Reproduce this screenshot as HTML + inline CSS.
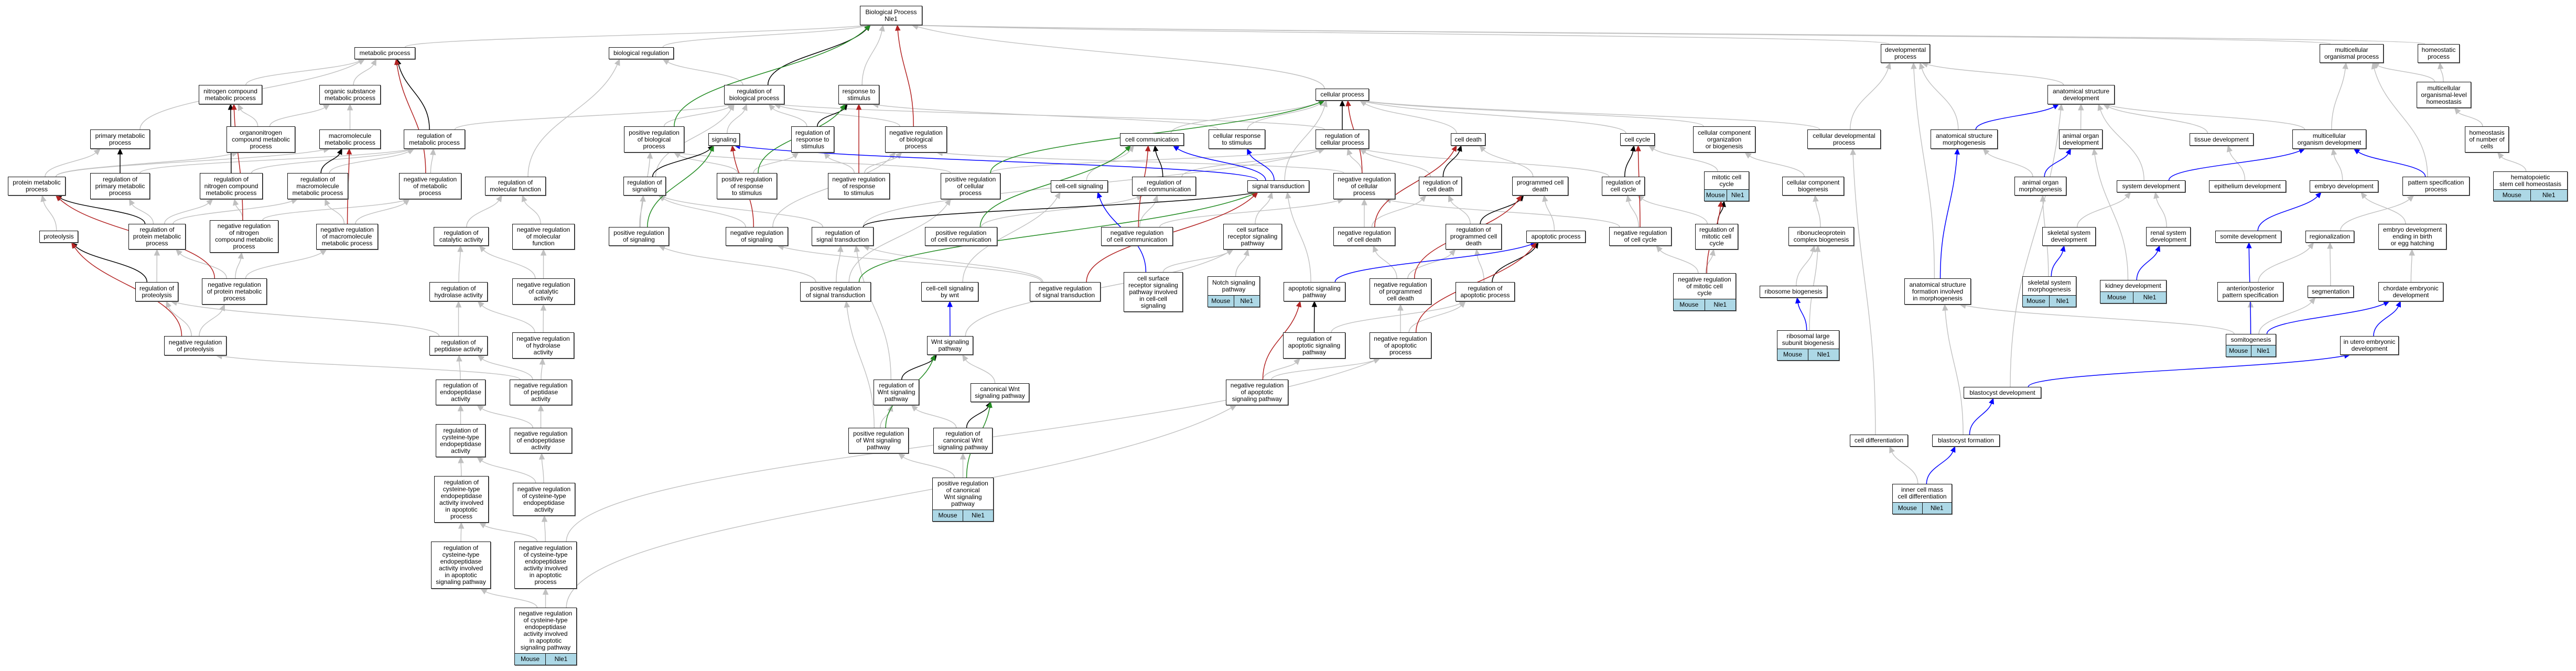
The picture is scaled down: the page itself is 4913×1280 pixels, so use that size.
<!DOCTYPE html>
<html><head><meta charset="utf-8"><style>
html,body{margin:0;padding:0;background:#fff;}
#wrap{position:relative;width:4913px;height:1280px;overflow:hidden;background:#fff;}
svg{position:absolute;left:0;top:0;}
.n{position:absolute;box-sizing:border-box;border:1.5px solid #111;background:#fff;display:flex;align-items:center;justify-content:center;text-align:center;font:12px/13px "Liberation Sans",sans-serif;color:#000;white-space:nowrap;box-shadow:1px 1px 0 #777;z-index:2}
.g{flex-direction:column;align-items:stretch}
.g .t{flex:1;display:flex;align-items:center;justify-content:center}
.g .r{height:21px;display:flex;border-top:1.5px solid #111;background:#add8e6}
.g .r span{flex:1;display:flex;align-items:center;justify-content:center}
.g .r span+span{border-left:1.5px solid #111}
</style></head><body><div id="wrap">
<svg id="sv" width="4913" height="1280"></svg>
<div class="n" id="bp" style="left:1640px;top:11px;width:119px;height:37px">Biological Process<br>Nle1</div>
<div class="n" id="mp" style="left:676px;top:90px;width:116px;height:23px">metabolic process</div>
<div class="n" id="br" style="left:1161px;top:90px;width:124px;height:23px">biological regulation</div>
<div class="n" id="rbp" style="left:1381px;top:162px;width:115px;height:37px">regulation of<br>biological process</div>
<div class="n" id="rs" style="left:1599px;top:162px;width:78px;height:37px">response to<br>stimulus</div>
<div class="n" id="cp" style="left:2509px;top:169px;width:102px;height:23px">cellular process</div>
<div class="n" id="dp" style="left:3587px;top:84px;width:94px;height:36px">developmental<br>process</div>
<div class="n" id="mop" style="left:4424px;top:84px;width:122px;height:36px">multicellular<br>organismal process</div>
<div class="n" id="hp" style="left:4611px;top:84px;width:80px;height:36px">homeostatic<br>process</div>
<div class="n" id="ncmp" style="left:379px;top:162px;width:121px;height:37px">nitrogen compound<br>metabolic process</div>
<div class="n" id="osmp" style="left:609px;top:162px;width:117px;height:37px">organic substance<br>metabolic process</div>
<div class="n" id="pmp" style="left:172px;top:247px;width:114px;height:37px">primary metabolic<br>process</div>
<div class="n" id="oncmp" style="left:432px;top:241px;width:131px;height:50px">organonitrogen<br>compound metabolic<br>process</div>
<div class="n" id="mmp" style="left:609px;top:247px;width:117px;height:37px">macromolecule<br>metabolic process</div>
<div class="n" id="rmp" style="left:770px;top:247px;width:117px;height:37px">regulation of<br>metabolic process</div>
<div class="n" id="pbp" style="left:1190px;top:241px;width:115px;height:50px">positive regulation<br>of biological<br>process</div>
<div class="n" id="sig" style="left:1351px;top:254px;width:60px;height:24px">signaling</div>
<div class="n" id="rrs" style="left:1509px;top:241px;width:82px;height:50px">regulation of<br>response to<br>stimulus</div>
<div class="n" id="nrbp" style="left:1688px;top:241px;width:118px;height:50px">negative regulation<br>of biological<br>process</div>
<div class="n" id="cc" style="left:2136px;top:254px;width:122px;height:24px">cell communication</div>
<div class="n" id="crs" style="left:2305px;top:247px;width:108px;height:37px">cellular response<br>to stimulus</div>
<div class="n" id="rcp" style="left:2509px;top:247px;width:102px;height:37px">regulation of<br>cellular process</div>
<div class="n" id="cd" style="left:2767px;top:254px;width:66px;height:24px">cell death</div>
<div class="n" id="ccy" style="left:3090px;top:254px;width:66px;height:24px">cell cycle</div>
<div class="n" id="ccob" style="left:3229px;top:241px;width:119px;height:50px">cellular component<br>organization<br>or biogenesis</div>
<div class="n" id="cdp" style="left:3447px;top:247px;width:140px;height:37px">cellular developmental<br>process</div>
<div class="n" id="asd" style="left:3905px;top:162px;width:128px;height:37px">anatomical structure<br>development</div>
<div class="n" id="mloh" style="left:4609px;top:156px;width:104px;height:50px">multicellular<br>organismal-level<br>homeostasis</div>
<div class="n" id="asm" style="left:3682px;top:247px;width:128px;height:37px">anatomical structure<br>morphogenesis</div>
<div class="n" id="aod" style="left:3927px;top:247px;width:83px;height:37px">animal organ<br>development</div>
<div class="n" id="td" style="left:4176px;top:254px;width:122px;height:24px">tissue development</div>
<div class="n" id="mod" style="left:4372px;top:247px;width:141px;height:37px">multicellular<br>organism development</div>
<div class="n" id="hnc" style="left:4701px;top:241px;width:84px;height:50px">homeostasis<br>of number of<br>cells</div>
<div class="n" id="prmp" style="left:15px;top:337px;width:110px;height:36px">protein metabolic<br>process</div>
<div class="n" id="rpmp" style="left:172px;top:330px;width:114px;height:50px">regulation of<br>primary metabolic<br>process</div>
<div class="n" id="rncmp" style="left:381px;top:330px;width:120px;height:50px">regulation of<br>nitrogen compound<br>metabolic process</div>
<div class="n" id="rmmp" style="left:548px;top:330px;width:116px;height:50px">regulation of<br>macromolecule<br>metabolic process</div>
<div class="n" id="nrmp" style="left:761px;top:330px;width:119px;height:50px">negative regulation<br>of metabolic<br>process</div>
<div class="n" id="rmf" style="left:925px;top:337px;width:116px;height:36px">regulation of<br>molecular function</div>
<div class="n" id="rsig" style="left:1189px;top:337px;width:81px;height:36px">regulation of<br>signaling</div>
<div class="n" id="prrs" style="left:1367px;top:330px;width:115px;height:50px">positive regulation<br>of response<br>to stimulus</div>
<div class="n" id="nrrs" style="left:1579px;top:330px;width:118px;height:50px">negative regulation<br>of response<br>to stimulus</div>
<div class="n" id="prcp" style="left:1794px;top:330px;width:114px;height:50px">positive regulation<br>of cellular<br>process</div>
<div class="n" id="ccs" style="left:2004px;top:344px;width:109px;height:23px">cell-cell signaling</div>
<div class="n" id="rcc" style="left:2159px;top:337px;width:122px;height:36px">regulation of<br>cell communication</div>
<div class="n" id="st" style="left:2379px;top:344px;width:118px;height:23px">signal transduction</div>
<div class="n" id="nrcp" style="left:2543px;top:330px;width:118px;height:50px">negative regulation<br>of cellular<br>process</div>
<div class="n" id="rcd" style="left:2706px;top:337px;width:82px;height:36px">regulation of<br>cell death</div>
<div class="n" id="pcd" style="left:2884px;top:337px;width:107px;height:36px">programmed cell<br>death</div>
<div class="n" id="rccy" style="left:3055px;top:337px;width:82px;height:36px">regulation of<br>cell cycle</div>
<div class="n g" id="mcc" style="left:3250px;top:327px;width:86px;height:57px"><div class="t">mitotic cell<br>cycle</div><div class="r"><span>Mouse</span><span>Nle1</span></div></div>
<div class="n" id="ccb" style="left:3399px;top:337px;width:118px;height:36px">cellular component<br>biogenesis</div>
<div class="n" id="aom" style="left:3842px;top:337px;width:99px;height:36px">animal organ<br>morphogenesis</div>
<div class="n" id="sd" style="left:4037px;top:344px;width:131px;height:23px">system development</div>
<div class="n" id="ed" style="left:4213px;top:344px;width:147px;height:23px">epithelium development</div>
<div class="n" id="emd" style="left:4405px;top:344px;width:131px;height:23px">embryo development</div>
<div class="n" id="ps" style="left:4582px;top:337px;width:128px;height:36px">pattern specification<br>process</div>
<div class="n g" id="hsc" style="left:4755px;top:327px;width:142px;height:57px"><div class="t">hematopoietic<br>stem cell homeostasis</div><div class="r"><span>Mouse</span><span>Nle1</span></div></div>
<div class="n" id="prot" style="left:75px;top:440px;width:74px;height:23px">proteolysis</div>
<div class="n" id="rprotmp" style="left:245px;top:427px;width:109px;height:49px">regulation of<br>protein metabolic<br>process</div>
<div class="n" id="nrncmp" style="left:400px;top:420px;width:131px;height:62px">negative regulation<br>of nitrogen<br>compound metabolic<br>process</div>
<div class="n" id="nrmmp" style="left:603px;top:427px;width:118px;height:49px">negative regulation<br>of macromolecule<br>metabolic process</div>
<div class="n" id="rca" style="left:827px;top:433px;width:105px;height:36px">regulation of<br>catalytic activity</div>
<div class="n" id="nrmf" style="left:977px;top:427px;width:119px;height:49px">negative regulation<br>of molecular<br>function</div>
<div class="n" id="psig" style="left:1161px;top:433px;width:115px;height:36px">positive regulation<br>of signaling</div>
<div class="n" id="nrsig" style="left:1384px;top:433px;width:119px;height:36px">negative regulation<br>of signaling</div>
<div class="n" id="rst" style="left:1548px;top:433px;width:118px;height:36px">regulation of<br>signal transduction</div>
<div class="n" id="prcc" style="left:1764px;top:433px;width:138px;height:36px">positive regulation<br>of cell communication</div>
<div class="n" id="nrcc" style="left:2100px;top:433px;width:137px;height:36px">negative regulation<br>of cell communication</div>
<div class="n" id="csr" style="left:2333px;top:427px;width:112px;height:49px">cell surface<br>receptor signaling<br>pathway</div>
<div class="n" id="nrcd" style="left:2543px;top:433px;width:118px;height:36px">negative regulation<br>of cell death</div>
<div class="n" id="rpcd" style="left:2757px;top:427px;width:107px;height:49px">regulation of<br>programmed cell<br>death</div>
<div class="n" id="ap" style="left:2911px;top:440px;width:113px;height:23px">apoptotic process</div>
<div class="n" id="nrccy" style="left:3069px;top:433px;width:119px;height:36px">negative regulation<br>of cell cycle</div>
<div class="n" id="rmcc" style="left:3233px;top:427px;width:82px;height:49px">regulation of<br>mitotic cell<br>cycle</div>
<div class="n" id="rcb" style="left:3411px;top:433px;width:125px;height:36px">ribonucleoprotein<br>complex biogenesis</div>
<div class="n" id="ssd" style="left:3895px;top:433px;width:102px;height:36px">skeletal system<br>development</div>
<div class="n" id="rsd" style="left:4093px;top:433px;width:85px;height:36px">renal system<br>development</div>
<div class="n" id="somd" style="left:4225px;top:440px;width:126px;height:23px">somite development</div>
<div class="n" id="reg" style="left:4397px;top:440px;width:93px;height:23px">regionalization</div>
<div class="n" id="edb" style="left:4536px;top:427px;width:130px;height:49px">embryo development<br>ending in birth<br>or egg hatching</div>
<div class="n" id="rprot" style="left:258px;top:538px;width:82px;height:37px">regulation of<br>proteolysis</div>
<div class="n" id="nrprotmp" style="left:385px;top:531px;width:124px;height:50px">negative regulation<br>of protein metabolic<br>process</div>
<div class="n" id="rha" style="left:819px;top:538px;width:111px;height:37px">regulation of<br>hydrolase activity</div>
<div class="n" id="nrca" style="left:977px;top:531px;width:119px;height:50px">negative regulation<br>of catalytic<br>activity</div>
<div class="n" id="prst" style="left:1526px;top:538px;width:135px;height:37px">positive regulation<br>of signal transduction</div>
<div class="n" id="ccw" style="left:1757px;top:538px;width:109px;height:37px">cell-cell signaling<br>by wnt</div>
<div class="n" id="nrst" style="left:1964px;top:538px;width:135px;height:37px">negative regulation<br>of signal transduction</div>
<div class="n" id="csrcc" style="left:2143px;top:519px;width:113px;height:76px">cell surface<br>receptor signaling<br>pathway involved<br>in cell-cell<br>signaling</div>
<div class="n g" id="notch" style="left:2303px;top:527px;width:100px;height:59px"><div class="t">Notch signaling<br>pathway</div><div class="r"><span>Mouse</span><span>Nle1</span></div></div>
<div class="n" id="asp" style="left:2448px;top:538px;width:118px;height:37px">apoptotic signaling<br>pathway</div>
<div class="n" id="nrpcd" style="left:2612px;top:531px;width:118px;height:50px">negative regulation<br>of programmed<br>cell death</div>
<div class="n" id="rap" style="left:2776px;top:538px;width:113px;height:37px">regulation of<br>apoptotic process</div>
<div class="n g" id="nrmcc" style="left:3191px;top:521px;width:120px;height:72px"><div class="t">negative regulation<br>of mitotic cell<br>cycle</div><div class="r"><span>Mouse</span><span>Nle1</span></div></div>
<div class="n" id="rb" style="left:3356px;top:545px;width:129px;height:23px">ribosome biogenesis</div>
<div class="n" id="asf" style="left:3632px;top:531px;width:127px;height:50px">anatomical structure<br>formation involved<br>in morphogenesis</div>
<div class="n g" id="ssm" style="left:3857px;top:527px;width:103px;height:59px"><div class="t">skeletal system<br>morphogenesis</div><div class="r"><span>Mouse</span><span>Nle1</span></div></div>
<div class="n g" id="kd" style="left:4005px;top:534px;width:127px;height:45px"><div class="t">kidney development</div><div class="r"><span>Mouse</span><span>Nle1</span></div></div>
<div class="n" id="app" style="left:4229px;top:538px;width:126px;height:37px">anterior/posterior<br>pattern specification</div>
<div class="n" id="seg" style="left:4401px;top:545px;width:88px;height:23px">segmentation</div>
<div class="n" id="ced" style="left:4536px;top:538px;width:124px;height:37px">chordate embryonic<br>development</div>
<div class="n" id="nrprot" style="left:313px;top:641px;width:119px;height:37px">negative regulation<br>of proteolysis</div>
<div class="n" id="rpa" style="left:819px;top:641px;width:111px;height:37px">regulation of<br>peptidase activity</div>
<div class="n" id="nrha" style="left:977px;top:634px;width:118px;height:50px">negative regulation<br>of hydrolase<br>activity</div>
<div class="n" id="wnt" style="left:1768px;top:641px;width:88px;height:36px">Wnt signaling<br>pathway</div>
<div class="n" id="rasp" style="left:2447px;top:634px;width:119px;height:50px">regulation of<br>apoptotic signaling<br>pathway</div>
<div class="n" id="nrap" style="left:2612px;top:634px;width:118px;height:50px">negative regulation<br>of apoptotic<br>process</div>
<div class="n g" id="rlsb" style="left:3389px;top:630px;width:119px;height:58px"><div class="t">ribosomal large<br>subunit biogenesis</div><div class="r"><span>Mouse</span><span>Nle1</span></div></div>
<div class="n g" id="somg" style="left:4245px;top:637px;width:96px;height:44px"><div class="t">somitogenesis</div><div class="r"><span>Mouse</span><span>Nle1</span></div></div>
<div class="n" id="iued" style="left:4463px;top:641px;width:112px;height:36px">in utero embryonic<br>development</div>
<div class="n" id="rea" style="left:831px;top:724px;width:95px;height:49px">regulation of<br>endopeptidase<br>activity</div>
<div class="n" id="nrpa" style="left:972px;top:724px;width:119px;height:49px">negative regulation<br>of peptidase<br>activity</div>
<div class="n" id="rwnt" style="left:1666px;top:724px;width:87px;height:49px">regulation of<br>Wnt signaling<br>pathway</div>
<div class="n" id="cwnt" style="left:1851px;top:731px;width:112px;height:36px">canonical Wnt<br>signaling pathway</div>
<div class="n" id="nrasp" style="left:2338px;top:724px;width:119px;height:49px">negative regulation<br>of apoptotic<br>signaling pathway</div>
<div class="n" id="bd" style="left:3745px;top:738px;width:148px;height:22px">blastocyst development</div>
<div class="n" id="rcea" style="left:831px;top:809px;width:95px;height:63px">regulation of<br>cysteine-type<br>endopeptidase<br>activity</div>
<div class="n" id="nrea" style="left:972px;top:816px;width:119px;height:49px">negative regulation<br>of endopeptidase<br>activity</div>
<div class="n" id="prwnt" style="left:1618px;top:816px;width:115px;height:49px">positive regulation<br>of Wnt signaling<br>pathway</div>
<div class="n" id="rcwnt" style="left:1780px;top:816px;width:113px;height:49px">regulation of<br>canonical Wnt<br>signaling pathway</div>
<div class="n" id="cdiff" style="left:3528px;top:829px;width:111px;height:23px">cell differentiation</div>
<div class="n" id="bf" style="left:3685px;top:829px;width:129px;height:23px">blastocyst formation</div>
<div class="n" id="rceaap" style="left:828px;top:908px;width:104px;height:89px">regulation of<br>cysteine-type<br>endopeptidase<br>activity involved<br>in apoptotic<br>process</div>
<div class="n" id="nrcea" style="left:978px;top:921px;width:119px;height:63px">negative regulation<br>of cysteine-type<br>endopeptidase<br>activity</div>
<div class="n g" id="prcwnt" style="left:1778px;top:911px;width:117px;height:84px"><div class="t">positive regulation<br>of canonical<br>Wnt signaling<br>pathway</div><div class="r"><span>Mouse</span><span>Nle1</span></div></div>
<div class="n g" id="icm" style="left:3609px;top:923px;width:114px;height:58px"><div class="t">inner cell mass<br>cell differentiation</div><div class="r"><span>Mouse</span><span>Nle1</span></div></div>
<div class="n" id="rceaasp" style="left:822px;top:1033px;width:114px;height:90px">regulation of<br>cysteine-type<br>endopeptidase<br>activity involved<br>in apoptotic<br>signaling pathway</div>
<div class="n" id="nrceaap" style="left:981px;top:1033px;width:119px;height:90px">negative regulation<br>of cysteine-type<br>endopeptidase<br>activity involved<br>in apoptotic<br>process</div>
<div class="n g" id="nrceaasp" style="left:981px;top:1159px;width:119px;height:110px"><div class="t">negative regulation<br>of cysteine-type<br>endopeptidase<br>activity involved<br>in apoptotic<br>signaling pathway</div><div class="r"><span>Mouse</span><span>Nle1</span></div></div>
</div>
<script>
(function(){
var E="mp bp g;br bp g;rbp bp k;rs bp g;cp bp g;dp bp g;mop bp g;hp bp g;pbp bp n;nrbp bp r;ncmp mp g;osmp mp g;pmp mp g;rmp mp k;nrmp mp r;oncmp ncmp g;oncmp osmp g;mmp osmp g;rncmp ncmp k;nrncmp ncmp r;prmp pmp g;prmp oncmp g;prmp mmp g;rpmp pmp k;rpmp rmp g;rmmp mmp k;rmmp rmp g;nrmp rmp g;rmp rbp g;nrmmp mmp r;nrmmp rmmp g;nrmmp nrmp g;rncmp rmp g;rprotmp prmp k;rprotmp rpmp g;rprotmp rncmp g;rprotmp rmmp g;nrncmp rncmp g;nrncmp nrmp g;prot prmp g;rprot prot k;rprot rprotmp g;nrprotmp prmp r;nrprotmp rprotmp g;nrprotmp nrncmp g;nrprotmp nrmmp g;nrprot prot r;nrprot rprot g;nrprot nrprotmp g;rpa rprot g;rpa rha g;rha rca g;rca rmf g;rmf br g;nrmf rmf g;nrca rca g;nrca nrmf g;nrha rha g;nrha nrca g;rea rpa g;nrpa rpa g;nrpa nrha g;nrpa nrprot g;rcea rea g;nrea nrpa g;nrea rea g;rceaap rcea g;nrcea rcea g;nrcea nrea g;rceaasp rceaap g;nrceaap rceaap g;nrceaap nrcea g;nrceaasp rceaasp g;nrceaasp nrceaap g;nrceaasp nrasp g;nrceaap nrap g;rbp br g;pbp rbp g;rrs rbp g;rrs rs k;nrbp rbp g;prrs rrs g;prrs rs n;prrs pbp g;nrrs rrs g;nrrs rs r;nrrs nrbp g;sig rbp g;rsig sig k;rsig rbp g;psig sig n;psig rsig g;psig pbp g;nrsig sig r;nrsig rsig g;nrsig nrbp g;rst rsig g;rst st k;rst rcp g;prst rst g;prst psig g;prst st n;prst prcp g;nrst rst g;nrst nrsig g;nrst st r;st sig b;st cc b;st crs b;st cp g;cc cp g;crs cp g;crs rs g;rcp cp k;rcp rbp g;nrcp rcp g;nrcp cp r;nrcp nrbp g;prcp rcp g;prcp cp n;prcp pbp g;rcc cc k;rcc rcp g;prcc rcc g;prcc cc n;nrcc rcc g;nrcc cc r;nrcc nrcp g;ccs cc g;csr st g;csrcc ccs b;csrcc csr g;ccw ccs g;wnt ccw b;wnt csr g;notch csr g;asp st g;asp ap b;rwnt wnt k;rwnt rst g;cwnt wnt g;prwnt wnt n;prwnt rwnt g;prwnt prst g;rcwnt cwnt k;rcwnt rwnt g;prcwnt rcwnt g;prcwnt cwnt n;prcwnt prwnt g;cd cp g;ccy cp g;ccob cp g;cdp cp g;cdp dp g;rcd cd k;rcd rcp g;pcd cd g;rpcd pcd k;rpcd rcd g;ap pcd g;nrcd rcd g;nrcd cd r;nrcd nrcp g;nrpcd rpcd g;nrpcd nrcd g;nrpcd pcd r;rap ap k;rap rpcd g;nrap rap g;nrap ap r;nrap nrpcd g;rasp asp k;rasp rap g;nrasp rasp g;nrasp asp r;nrasp nrap g;rccy ccy k;rccy rcp g;mcc ccy g;rmcc mcc k;rmcc rccy g;nrccy rccy g;nrccy ccy r;nrccy nrcp g;nrmcc rmcc g;nrmcc nrccy g;nrmcc mcc r;ccb ccob g;rcb ccb g;rb rcb g;rlsb rb b;rlsb rcb g;cdiff cdp g;icm cdiff g;icm bf b;asd dp g;mod asd g;mod mop g;asm asd b;asm dp g;aod asd g;td asd g;aom asm g;aom aod b;sd asd g;sd mod b;ed td g;emd mod g;ps mod b;ps mop g;hnc mloh g;mloh mop g;mloh hp g;hsc hnc g;ssd sd g;rsd sd g;somd emd b;reg ps g;edb emd g;asf asm b;asf dp g;ssm ssd b;ssm aom g;kd rsd b;kd aod g;app reg g;seg reg g;ced edb g;somg somd b;somg app g;somg seg g;somg asf g;somg ced b;iued ced b;bd iued b;bd asd g;bf bd b;bf asf g".split(";");
var C={g:"#c0c0c0",k:"#000000",r:"#b22222",n:"#228b22",b:"#0000ff"};
function B(id){var e=document.getElementById(id);var s=e.style;return{x:parseFloat(s.left),y:parseFloat(s.top),w:parseFloat(s.width),h:parseFloat(s.height)};}
var sv=document.getElementById("sv"),NS="http://www.w3.org/2000/svg";
var list=E.map(function(s){return s.split(" ");});
list.sort(function(a,b){return (a[2]=="g"?0:1)-(b[2]=="g"?0:1);});
list.forEach(function(a){
 var c=B(a[0]),p=B(a[1]),col=C[a[2]];
 var sx,sy,ex,ey,c1x,c1y,c2x,c2y;
 var ccx=c.x+c.w/2,pcx=p.x+p.w/2;
 if(c.y>p.y+p.h+4){
  sx=ccx+Math.max(-c.w/3,Math.min(c.w/3,(pcx-ccx)*0.1));sy=c.y;
  ex=pcx+Math.max(-p.w/3,Math.min(p.w/3,(ccx-pcx)*0.25));ey=p.y+p.h;
  var dy=sy-ey;c1x=sx;c1y=sy-dy*0.45;c2x=ex+(sx-ex)*0.25;c2y=ey+dy*0.45;
 }else{
  var right=pcx>ccx;sx=right?c.x+c.w:c.x;sy=c.y+c.h/2;ex=right?p.x:p.x+p.w;ey=p.y+p.h/2;
  var dx=ex-sx;c1x=sx+dx*0.4;c1y=sy;c2x=ex-dx*0.4;c2y=ey;
 }
 var vx=ex-c2x,vy=ey-c2y,L=Math.sqrt(vx*vx+vy*vy)||1;vx/=L;vy/=L;
 var al=a[2]=="g"?11:10,aw=a[2]=="g"?5:4.5;
 var bx=ex-vx*al,by=ey-vy*al;
 var path=document.createElementNS(NS,"path");
 path.setAttribute("d","M"+sx+","+sy+" C"+c1x+","+c1y+" "+(c2x-vx*0)+","+c2y+" "+bx+","+by);
 path.setAttribute("fill","none");path.setAttribute("stroke",col);path.setAttribute("stroke-width",a[2]=="g"?1.4:1.5);
 sv.appendChild(path);
 var pg=document.createElementNS(NS,"polygon");
 pg.setAttribute("points",ex+","+ey+" "+(bx-vy*aw)+","+(by+vx*aw)+" "+(bx+vy*aw)+","+(by-vx*aw));
 pg.setAttribute("fill",col);pg.setAttribute("stroke",col);
 sv.appendChild(pg);
});
})();
</script>
</body></html>
